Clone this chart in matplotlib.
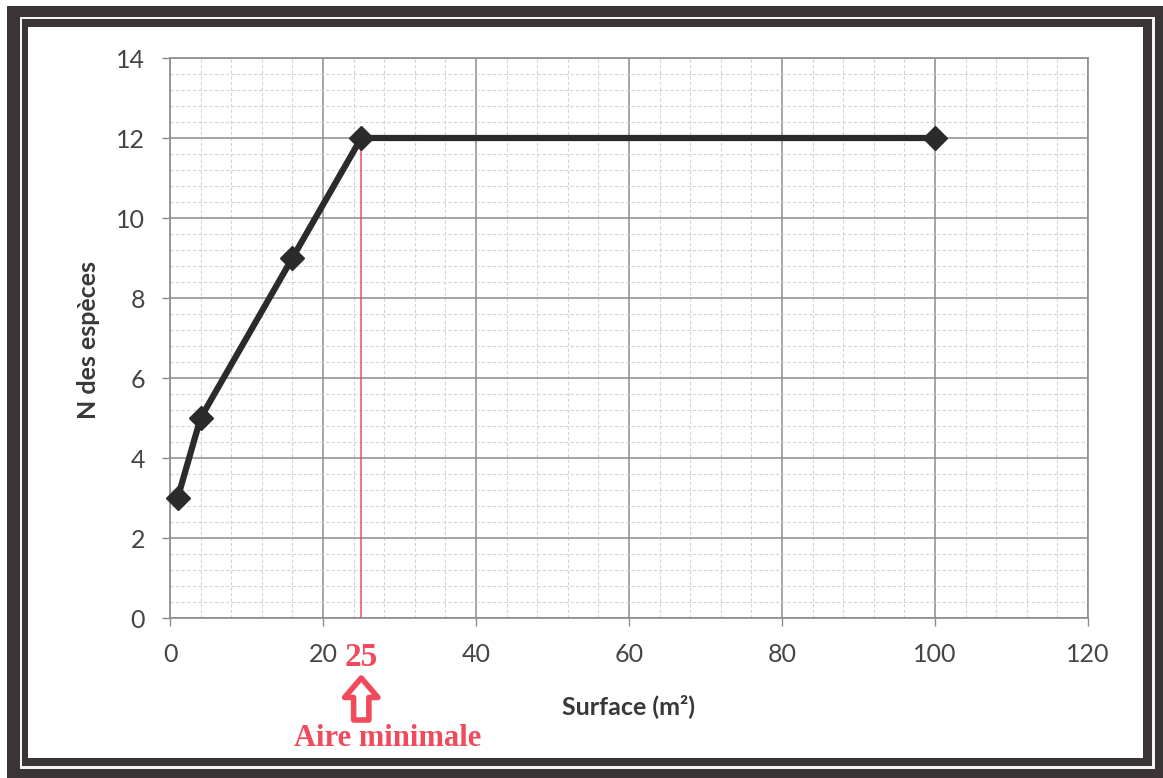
import matplotlib
matplotlib.use("Agg")
import matplotlib.pyplot as plt
from matplotlib.patches import Rectangle
from matplotlib.ticker import MultipleLocator

# données : surface (m²) et nombre d'espèces
surface = [1, 4, 16, 25, 100]
n_especes = [3, 5, 9, 12, 12]
aire_min = 25
aire_min_n = 12

red = "#f04a5c"
dark = "#2b2b2b"

W, H = 1163, 778
fig = plt.figure(figsize=(W / 100, H / 100), dpi=100)
fig.patch.set_facecolor("white")


def px_rect(x0, y0, x1, y1, color):
    # rectangle en pixels (origine en haut à gauche)
    r = Rectangle((x0 / W, 1 - y1 / H), (x1 - x0) / W, (y1 - y0) / H,
                  transform=fig.transFigure, facecolor=color, edgecolor="none", zorder=-10)
    fig.add_artist(r)


# cadre double
px_rect(7, 6, 1163, 778, "#3a3436")
px_rect(20, 17, 1155, 769, "#f4f4f4")
px_rect(22, 19, 1152, 766, "#3a3436")
px_rect(28, 27, 1143, 758, "white")

ax = fig.add_axes([170 / W, 1 - 618 / H, 918 / W, 560 / H])
ax.set_facecolor("white")

ax.plot(surface, n_especes, color=dark, lw=4.5, marker="D", markersize=12,
        markerfacecolor=dark, markeredgecolor=dark, zorder=5, clip_on=False)
ax.plot([aire_min, aire_min], [0, aire_min_n], color=red, lw=1.1, zorder=4)

ax.set_xlim(0, 120)
ax.set_ylim(0, 14)
ax.xaxis.set_major_locator(MultipleLocator(20))
ax.xaxis.set_minor_locator(MultipleLocator(4))
ax.yaxis.set_major_locator(MultipleLocator(2))
ax.yaxis.set_minor_locator(MultipleLocator(0.4))

ax.grid(which="major", color="#8c8c8c", lw=1.1)
ax.grid(which="minor", color="#d4d4d4", lw=0.8, ls=(0, (3, 2)))
ax.set_axisbelow(True)

for s in ax.spines.values():
    s.set_color("#8c8c8c")
    s.set_linewidth(1.2)

ax.tick_params(which="major", length=6, width=1, color="#8c8c8c",
               labelsize=18, labelcolor="#454545", pad=12)
ax.tick_params(which="minor", length=0)
for lab in ax.get_xticklabels() + ax.get_yticklabels():
    lab.set_family("Lato")

ax.set_xlabel("Surface (m²)", fontsize=18, fontweight="bold", family="Lato", color="#383838")
ax.set_ylabel("N des espèces", fontsize=18, fontweight="bold", family="Lato", color="#383838")
ax.xaxis.set_label_coords((628 - 170) / 918, (618 - 706) / 560)
ax.xaxis.label.set_va("center")
ax.yaxis.set_label_coords((88 - 170) / 918, (618 - 340) / 560)
ax.yaxis.label.set_va("center")

trans = ax.get_xaxis_transform()
ax.text(aire_min, (618 - 658) / 560, "25", transform=trans, ha="center", va="center",
        color=red, fontsize=24, fontweight="bold", family="Liberation Serif")
ax.annotate("", xy=(aire_min, (618 - 678) / 560), xytext=(aire_min, (618 - 720) / 560),
            xycoords=trans, textcoords=trans, annotation_clip=False,
            arrowprops=dict(arrowstyle="simple,head_length=0.7,head_width=1.2,tail_width=0.55",
                            fc="white", ec=red, lw=4, mutation_scale=20,
                            shrinkA=0, shrinkB=0))
ax.text(28.4, (618 - 738) / 560, "Aire minimale", transform=trans, ha="center", va="center",
        color=red, fontsize=22, fontweight="bold", family="Liberation Serif")

fig.savefig("out.png", dpi=100)
